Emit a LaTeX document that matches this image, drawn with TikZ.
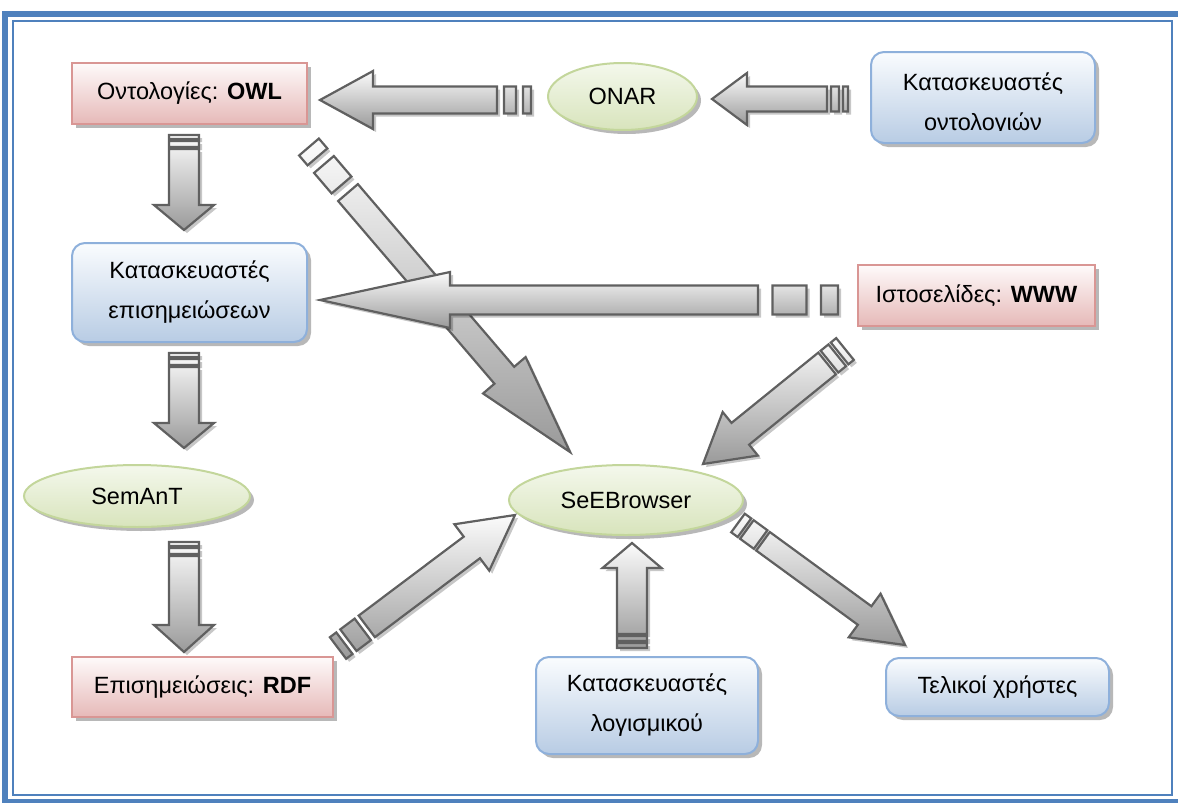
\documentclass[tikz,border=0pt]{standalone}
\usepackage{fontspec}
\setmainfont{Liberation Sans}
\usetikzlibrary{calc,shapes.geometric,shadows}

\definecolor{frameblue}{HTML}{4F81BD}
\definecolor{redline}{HTML}{D99694}
\definecolor{redtop}{HTML}{FEFAFA}
\definecolor{redbottom}{HTML}{E6B9B8}
\definecolor{blueline}{HTML}{8EB0DB}
\definecolor{bluetop}{HTML}{FAFCFE}
\definecolor{bluebottom}{HTML}{B8CCE4}
\definecolor{greenline}{HTML}{C3D69B}
\definecolor{greentop}{HTML}{F4F8EC}
\definecolor{greenbottom}{HTML}{D8E4BC}
\definecolor{arrowline}{HTML}{606060}
\definecolor{arrowtop}{HTML}{FBFBFB}
\definecolor{arrowbottom}{HTML}{9A9A9A}

% Striped block arrow from #1 (tail) to #2 (tip):
% #3 shaft half width, #4 head half width, #5 head length,
% #6 first stripe, #7 gap, #8 second stripe (all in px)
\newcommand\stripedarrow[8]{%
  \pgfmathsetmacro\stA{#6}%
  \pgfmathsetmacro\stB{#6+#7}%
  \pgfmathsetmacro\stC{#6+#7+#8}%
  \pgfmathsetmacro\stD{#6+2*#7+#8}%
  \coordinate (sa) at ($(#1)!\stA pt!(#2)$);
  \coordinate (sb) at ($(#1)!\stB pt!(#2)$);
  \coordinate (sc) at ($(#1)!\stC pt!(#2)$);
  \coordinate (sd) at ($(#1)!\stD pt!(#2)$);
  \coordinate (hb) at ($(#2)!#5pt!(#1)$);
  \def\arrowoutline{%
    ($(#1)!#3pt!90:(#2)$) -- ($(sa)!#3pt!90:(#2)$) -- ($(sa)!#3pt!-90:(#2)$) -- ($(#1)!#3pt!-90:(#2)$) -- cycle
    ($(sb)!#3pt!90:(#2)$) -- ($(sc)!#3pt!90:(#2)$) -- ($(sc)!#3pt!-90:(#2)$) -- ($(sb)!#3pt!-90:(#2)$) -- cycle
    ($(sd)!#3pt!90:(#2)$) -- ($(hb)!#3pt!90:(#2)$) -- ($(hb)!#4pt!90:(#2)$) -- (#2)
      -- ($(hb)!#4pt!-90:(#2)$) -- ($(hb)!#3pt!-90:(#2)$) -- ($(sd)!#3pt!-90:(#2)$) -- cycle}%
  \fill[arrowshadow, transform canvas={shift={(3pt,-3pt)}}] \arrowoutline;
  \path[arrowbody] \arrowoutline;
}

\begin{document}
\begin{tikzpicture}[x=1pt,y=-1pt,
  boxtext/.style={font=\fontsize{23.5}{40}\selectfont, align=center, inner sep=0pt},
  boxshadow/.style={drop shadow={shadow xshift=4pt, shadow yshift=-4pt, fill=black, opacity=0.28}},
  redbox/.style={boxtext, rectangle, draw=redline, line width=2pt,
    top color=redtop, bottom color=redbottom, boxshadow},
  bluebox/.style={boxtext, rectangle, rounded corners=13pt, draw=blueline, line width=2pt,
    top color=bluetop, bottom color=bluebottom, boxshadow},
  greenell/.style={boxtext, ellipse, draw=greenline, line width=2pt,
    top color=greentop, bottom color=greenbottom, boxshadow},
  arrowbody/.style={draw=arrowline, line width=2.2pt, top color=arrowtop, bottom color=arrowbottom},
  arrowshadow/.style={fill=black, opacity=0.22},
]
\useasboundingbox (0,0) rectangle (1178,803);

% page frame
\begin{scope}
  \clip (0,0) rectangle (1178,803);
  \draw[frameblue, line width=6pt] (5,14) rectangle (1181,802);
  \draw[frameblue, line width=2pt] (13,21) rectangle (1172,795);
\end{scope}

% nodes
\node[redbox, minimum width=235pt, minimum height=61pt] (owl) at (189.5,93.5) {Οντολογίες: \textbf{OWL}};
\node[greenell, minimum width=149pt, minimum height=67pt] (onar) at (622.5,96.5) {ONAR};
\node[bluebox, minimum width=224pt, minimum height=91pt] (konto) at (983,97.5) {};
% the second line overflows the text frame and is cut off at its bottom
\begin{scope}
  \clip (871,52) rectangle (1095,130);
  \node[boxtext] (konto-text) at (983,104) {Κατασκευαστές\\οντολογιών};
\end{scope}
\node[bluebox, minimum width=235pt, minimum height=99pt] (kepis) at (189.5,292.5) {Κατασκευαστές\\επισημειώσεων};
\node[redbox, minimum width=237pt, minimum height=61pt] (www) at (976.5,295.5) {Ιστοσελίδες: \textbf{WWW}};
\node[greenell, minimum width=226pt, minimum height=62pt] (semant) at (137,496) {SemAnT};
\node[greenell, minimum width=234pt, minimum height=70pt] (seeb) at (626,500) {SeEBrowser};
\node[redbox, minimum width=261pt, minimum height=60pt] (rdf) at (202.5,687) {Επισημειώσεις: \textbf{RDF}};
\node[bluebox, minimum width=222pt, minimum height=97pt] (klog) at (647,705.5) {Κατασκευαστές\\λογισμικού};
\node[bluebox, minimum width=223pt, minimum height=58pt] (telikoi) at (997.5,687) {Τελικοί χρήστες};

% arrow end points
\coordinate (onar-out) at (531,100);   \coordinate (owl-in) at (320,100);
\coordinate (konto-out) at (848,99);   \coordinate (onar-in) at (712,99);
\coordinate (owl-out) at (184,135);    \coordinate (kepis-in) at (184,230);
\coordinate (kepis-out) at (184,353);  \coordinate (semant-in) at (184,448);
\coordinate (semant-out) at (184,542); \coordinate (rdf-in) at (184,652);
\coordinate (owl-out2) at (309,147);   \coordinate (seeb-in1) at (570,452);
\coordinate (www-out) at (838,300);    \coordinate (kepis-in2) at (320,300);
\coordinate (www-out2) at (845,349);   \coordinate (seeb-in2) at (703,464);
\coordinate (rdf-out) at (338,648);    \coordinate (seeb-in3) at (515,515);
\coordinate (seeb-out) at (738,523);   \coordinate (telikoi-in) at (905,645);
\coordinate (klog-out) at (632,648);   \coordinate (seeb-in4) at (632,543);

% arrows
\stripedarrow{onar-out}{owl-in}{13.5}{29}{53}{8}{7}{12}
\stripedarrow{konto-out}{onar-in}{12.5}{26}{35}{5}{4}{8}
\stripedarrow{owl-out}{kepis-in}{15}{30}{25}{4}{2}{6}
\stripedarrow{kepis-out}{semant-in}{15}{30}{25}{4}{2}{6}
\stripedarrow{semant-out}{rdf-in}{15}{30}{27}{4}{2}{6}
\stripedarrow{owl-out2}{seeb-in1}{13}{28}{101}{13}{10}{27}
\stripedarrow{www-out}{kepis-in2}{14.5}{28}{130}{17}{14.5}{34}
\stripedarrow{www-out2}{seeb-in2}{14}{28}{48}{7}{3}{10}
\stripedarrow{rdf-out}{seeb-in3}{13.5}{29}{54}{8}{5}{18}
\stripedarrow{seeb-out}{telikoi-in}{11.5}{27}{50}{8}{3}{17}
\stripedarrow{klog-out}{seeb-in4}{15}{29.5}{25}{5}{2}{5}
\end{tikzpicture}
\end{document}
